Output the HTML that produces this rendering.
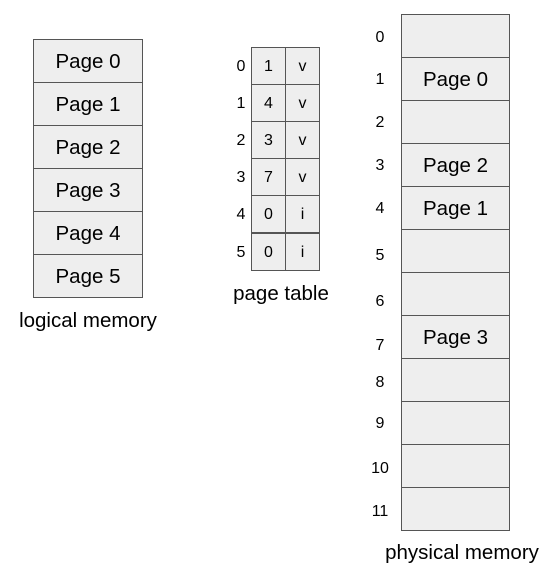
<!DOCTYPE html>
<html><head><meta charset="utf-8"><style>
body{margin:0;width:552px;height:572px;background:#fff;position:relative;font-family:"Liberation Sans",Arial,sans-serif;overflow:hidden}
.c{position:absolute;background:#eeeeee;border:1px solid #555;box-sizing:border-box;display:flex;align-items:center;justify-content:center;color:#000;padding-top:2px}
.t{position:absolute;color:#000;white-space:nowrap;transform:translate(-50%,-50%)}
</style></head><body>
<div id="root"></div>
<script>
const root=document.body;
const logical=["Page 0","Page 1","Page 2","Page 3","Page 4","Page 5"];
const frames=[1,4,3,7,0,0];
const valid=["v","v","v","v","i","i"];
const physical=["","Page 0","","Page 2","Page 1","","","Page 3","","","",""];
const physLabelY=[38,80,123,166,209,256,302,346,383,424,469,512];
function cell(x,y,w,h,txt,fs,name){const d=document.createElement('div');d.className='c';
d.style.cssText=`left:${x}px;top:${y}px;width:${w}px;height:${h}px;font-size:${fs}px`;d.textContent=txt;


root.appendChild(d);return d;}
function label(x,y,txt,fs,name){const d=document.createElement('div');d.className='t';
d.style.cssText=`left:${x}px;top:${y}px;font-size:${fs}px`;d.textContent=txt;


root.appendChild(d);}
logical.forEach((p,i)=>cell(33,39+i*43,110,44,p,20.5,'logical-page-'+i));
label(88,321,"logical memory",20.5,'logical-memory-title');
const ptY=[47,84,121,158,195,233];
frames.forEach((f,i)=>{const h=38;
cell(251,ptY[i],35,h,String(f),16,'page-table-frame-'+i);
cell(285,ptY[i],35,h,valid[i],16,'page-table-valid-'+i);
label(241,ptY[i]+20,String(i),16,'page-table-index-'+i);});
label(281,294,"page table",20.5,'page-table-title');
physical.forEach((p,i)=>{cell(401,14+i*43,109,44,p,20.5,'physical-frame-'+i);
label(380,physLabelY[i],String(i),16,'physical-frame-number-'+i);});
label(462,553,"physical memory",20.5,'physical-memory-title');
</script>
</body></html>
